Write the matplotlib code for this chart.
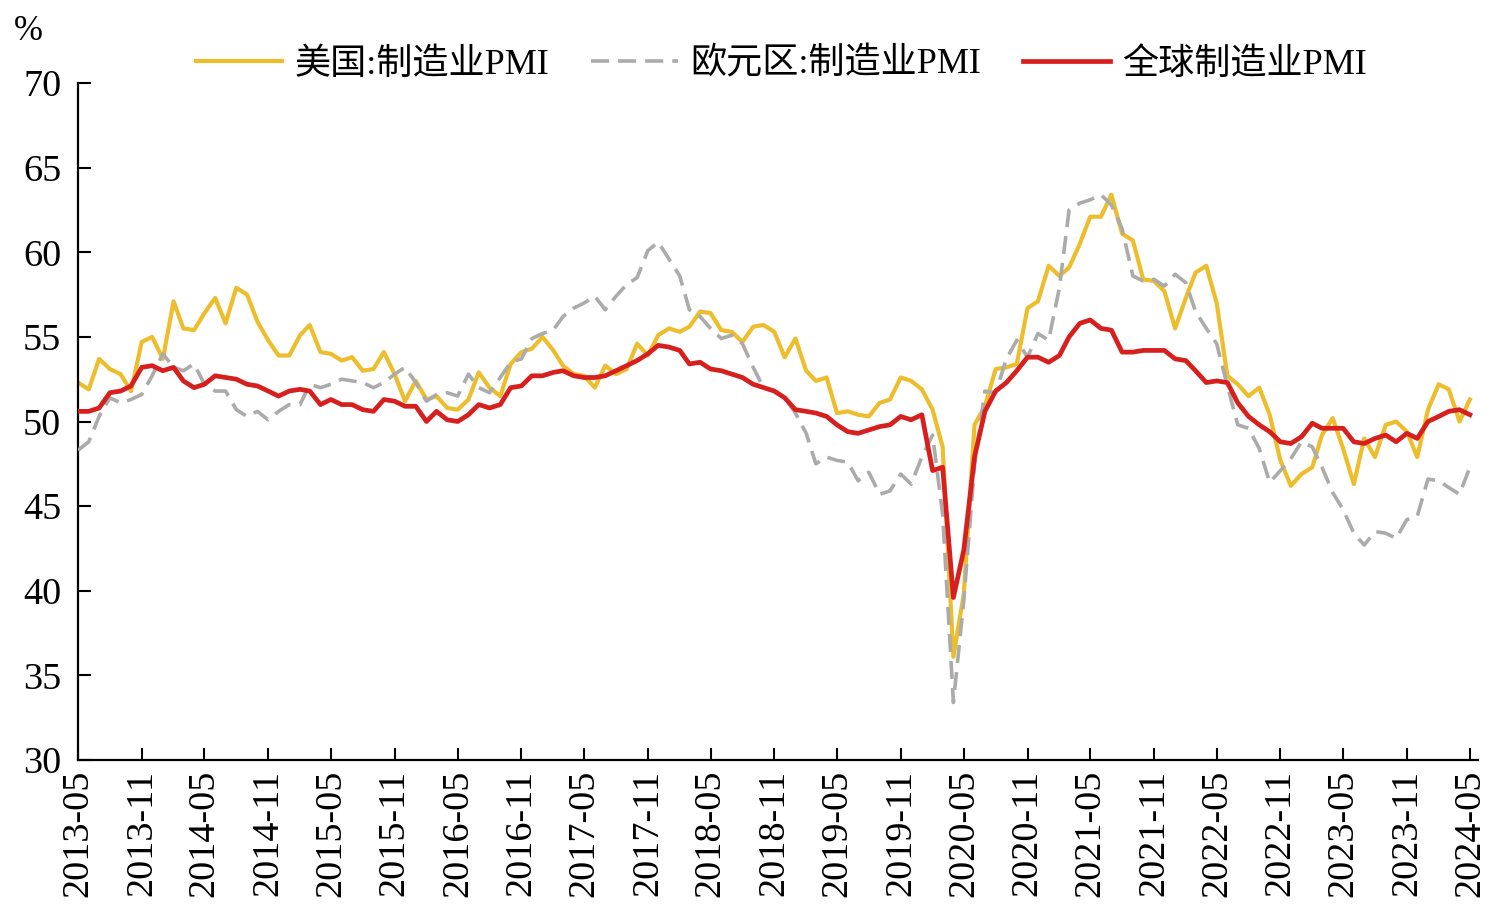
import matplotlib
matplotlib.use("Agg")
import matplotlib.pyplot as plt
import pandas as pd
import numpy as np

plt.rcParams['font.family'] = ['Liberation Serif', 'Noto Sans CJK SC', 'DejaVu Sans']

months = pd.date_range('2013-05-01', '2024-05-01', freq='MS')

# 美国:制造业PMI
us_pmi = [52.3, 51.9, 53.7, 53.1, 52.8, 51.8, 54.7, 55.0,
          53.7, 57.1, 55.5, 55.4, 56.4, 57.3, 55.8, 57.9, 57.5, 55.9, 54.8, 53.9,
          53.9, 55.1, 55.7, 54.1, 54.0, 53.6, 53.8, 53.0, 53.1, 54.1, 52.8, 51.2,
          52.4, 51.3, 51.5, 50.8, 50.7, 51.3, 52.9, 52.0, 51.5, 53.4, 54.1, 54.3,
          55.0, 54.2, 53.3, 52.8, 52.7, 52.0, 53.3, 52.8, 53.1, 54.6, 53.9, 55.1,
          55.5, 55.3, 55.6, 56.5, 56.4, 55.4, 55.3, 54.7, 55.6, 55.7, 55.3, 53.8,
          54.9, 53.0, 52.4, 52.6, 50.5, 50.6, 50.4, 50.3, 51.1, 51.3, 52.6, 52.4,
          51.9, 50.7, 48.5, 36.1, 39.8, 49.8, 50.9, 53.1, 53.2, 53.4, 56.7, 57.1,
          59.2, 58.6, 59.1, 60.5, 62.1, 62.1, 63.4, 61.1, 60.7, 58.4, 58.3, 57.7,
          55.5, 57.3, 58.8, 59.2, 57.0, 52.7, 52.2, 51.5, 52.0, 50.4, 47.7, 46.2,
          46.9, 47.3, 49.2, 50.2, 48.4, 46.3, 49.0, 47.9, 49.8, 50.0, 49.4, 47.9,
          50.7, 52.2, 51.9, 50.0, 51.3]

# 欧元区:制造业PMI
ez_pmi = [48.3, 48.8, 50.3, 51.4, 51.1, 51.3, 51.6, 52.7,
          54.0, 53.2, 53.0, 53.4, 52.2, 51.8, 51.8, 50.7, 50.3, 50.6, 50.1, 50.6,
          51.0, 51.0, 52.2, 52.0, 52.2, 52.5, 52.4, 52.3, 52.0, 52.3, 52.8, 53.2,
          52.3, 51.2, 51.6, 51.7, 51.5, 52.8, 52.0, 51.7, 52.6, 53.5, 53.7, 54.9,
          55.2, 55.4, 56.2, 56.7, 57.0, 57.4, 56.6, 57.4, 58.1, 58.5, 60.1, 60.6,
          59.6, 58.6, 56.6, 56.2, 55.5, 54.9, 55.1, 54.6, 53.2, 52.0, 51.8, 51.4,
          50.5, 49.3, 47.5, 47.9, 47.7, 47.6, 46.5, 47.0, 45.7, 45.9, 46.9, 46.3,
          47.9, 49.2, 44.5, 33.4, 39.4, 47.4, 51.8, 51.7, 53.7, 54.8, 53.8, 55.2,
          54.8, 57.9, 62.5, 62.9, 63.1, 63.4, 62.8, 61.4, 58.6, 58.3, 58.4, 58.0,
          58.7, 58.2, 56.5, 55.5, 54.6, 52.1, 49.8, 49.6, 48.4, 46.4, 47.1, 47.8,
          48.8, 48.5, 47.3, 45.8, 44.8, 43.4, 42.7, 43.5, 43.4, 43.1, 44.2, 44.4,
          46.6, 46.5, 46.1, 45.7, 47.3]

# 全球制造业PMI
gl_pmi = [50.6, 50.6, 50.8, 51.7, 51.8, 52.1, 53.2, 53.3,
          53.0, 53.2, 52.4, 52.0, 52.2, 52.7, 52.6, 52.5, 52.2, 52.1, 51.8, 51.5,
          51.8, 51.9, 51.8, 51.0, 51.3, 51.0, 51.0, 50.7, 50.6, 51.3, 51.2, 50.9,
          50.9, 50.0, 50.6, 50.1, 50.0, 50.4, 51.0, 50.8, 51.0, 52.0, 52.1, 52.7,
          52.7, 52.9, 53.0, 52.7, 52.6, 52.6, 52.7, 53.0, 53.3, 53.6, 54.0, 54.5,
          54.4, 54.2, 53.4, 53.5, 53.1, 53.0, 52.8, 52.6, 52.2, 52.0, 51.8, 51.4,
          50.7, 50.6, 50.5, 50.3, 49.8, 49.4, 49.3, 49.5, 49.7, 49.8, 50.3, 50.1,
          50.4, 47.1, 47.3, 39.6, 42.4, 47.9, 50.6, 51.8, 52.3, 53.0, 53.8, 53.8,
          53.5, 53.9, 55.0, 55.8, 56.0, 55.5, 55.4, 54.1, 54.1, 54.2, 54.2, 54.2,
          53.7, 53.6, 53.0, 52.3, 52.4, 52.3, 51.1, 50.3, 49.8, 49.4, 48.8, 48.7,
          49.1, 49.9, 49.6, 49.6, 49.6, 48.8, 48.7, 49.0, 49.2, 48.8, 49.3, 49.0,
          50.0, 50.3, 50.6, 50.7, 50.4]

labels = ['美国:制造业PMI', '欧元区:制造业PMI', '全球制造业PMI']
yticks = [30, 35, 40, 45, 50, 55, 60, 65, 70]

fig = plt.figure(figsize=(14.94, 9.10), dpi=100)
ax = fig.add_axes([0.0522, 0.1648, 0.937, 0.744])

l1, = ax.plot(months, us_pmi, color='#EDBD2C', lw=3.0, zorder=2,
              solid_joinstyle='round')
l2, = ax.plot(months, ez_pmi, color='#ABABAB', lw=2.6, dashes=(5, 2.5), zorder=3)
l3, = ax.plot(months, gl_pmi, color='#D7201E', lw=3.4, zorder=4,
              solid_joinstyle='round')

ax.set_ylim(30, 70)
ax.set_yticks(yticks)
ax.set_xlim(months[0], months[-1] + pd.Timedelta(days=23))
ax.set_xticks(months[::6])
ax.set_xticklabels(months[::6].strftime('%Y-%m'), rotation=90)

for s in ['top', 'right']:
    ax.spines[s].set_visible(False)
for s in ['left', 'bottom']:
    ax.spines[s].set_linewidth(1.6)
ax.tick_params(axis='both', direction='in', length=9, width=1.5, labelsize=27.5)
ax.tick_params(axis='y', pad=12)
ax.tick_params(axis='x', pad=7)

fig.text(0.019, 0.965, '%', fontsize=25, ha='center', va='center')

fig.legend([l1, l2, l3], labels, loc='center', bbox_to_anchor=(0.523, 0.929),
           ncol=3, frameon=False, fontsize=26, handlelength=2.4,
           handletextpad=0.35, columnspacing=1.15)

fig.savefig('out.png', dpi=100, facecolor='white')
